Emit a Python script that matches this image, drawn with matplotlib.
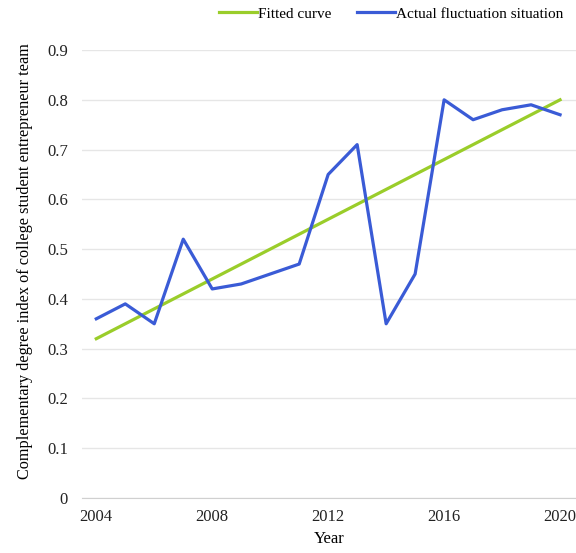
import matplotlib.pyplot as plt

years = list(range(2004, 2021))
fitted = [0.32, 0.35, 0.38, 0.41, 0.44, 0.47, 0.50, 0.53, 0.56, 0.59,
          0.62, 0.65, 0.68, 0.71, 0.74, 0.77, 0.80]
actual = [0.36, 0.39, 0.35, 0.52, 0.42, 0.43, 0.45, 0.47, 0.65, 0.71,
          0.35, 0.45, 0.80, 0.76, 0.78, 0.79, 0.77]
xticks = [2004, 2008, 2012, 2016, 2020]
yticks = [0, 0.1, 0.2, 0.3, 0.4, 0.5, 0.6, 0.7, 0.8, 0.9]

plt.rcParams['font.family'] = ['Liberation Serif', 'DejaVu Serif']
plt.rcParams['font.size'] = 12

fig = plt.figure(figsize=(5.76, 5.53), dpi=100)
ax = fig.add_axes([0.142, 0.0995, 0.858, 0.81])

ax.plot(years, fitted, color='#9acd2a', lw=2.3, label='Fitted curve')
ax.plot(years, actual, color='#3a5bd6', lw=2.3, label='Actual fluctuation situation')

ax.set_xlim(2003.5, 2020.55)
ax.set_ylim(0, 0.9)
ax.set_xticks(xticks)
ax.set_yticks(yticks)
ax.set_yticklabels(['0' if v == 0 else '{:.1f}'.format(v) for v in yticks])
ax.yaxis.grid(True, color='#e6e6e6', lw=1)
ax.set_axisbelow(True)
for s in ['top', 'right', 'left']:
    ax.spines[s].set_visible(False)
ax.spines['bottom'].set_color('#d0d0d0')
ax.tick_params(length=0, colors='#222222')
ax.tick_params(axis='y', pad=10)
ax.tick_params(axis='x', pad=8)

ax.set_xlabel('Year', labelpad=4)
ax.set_ylabel('Complementary degree index of college student entrepreneur team', fontsize=11.7)
ax.yaxis.set_label_coords(-0.098, 0.528)

fig.legend(loc='upper right', bbox_to_anchor=(1.002, 1.012), ncol=2, frameon=False, fontsize=11,
           handlelength=2.5, handletextpad=0.05, columnspacing=1.7)

fig.savefig('out.png', dpi=100)
